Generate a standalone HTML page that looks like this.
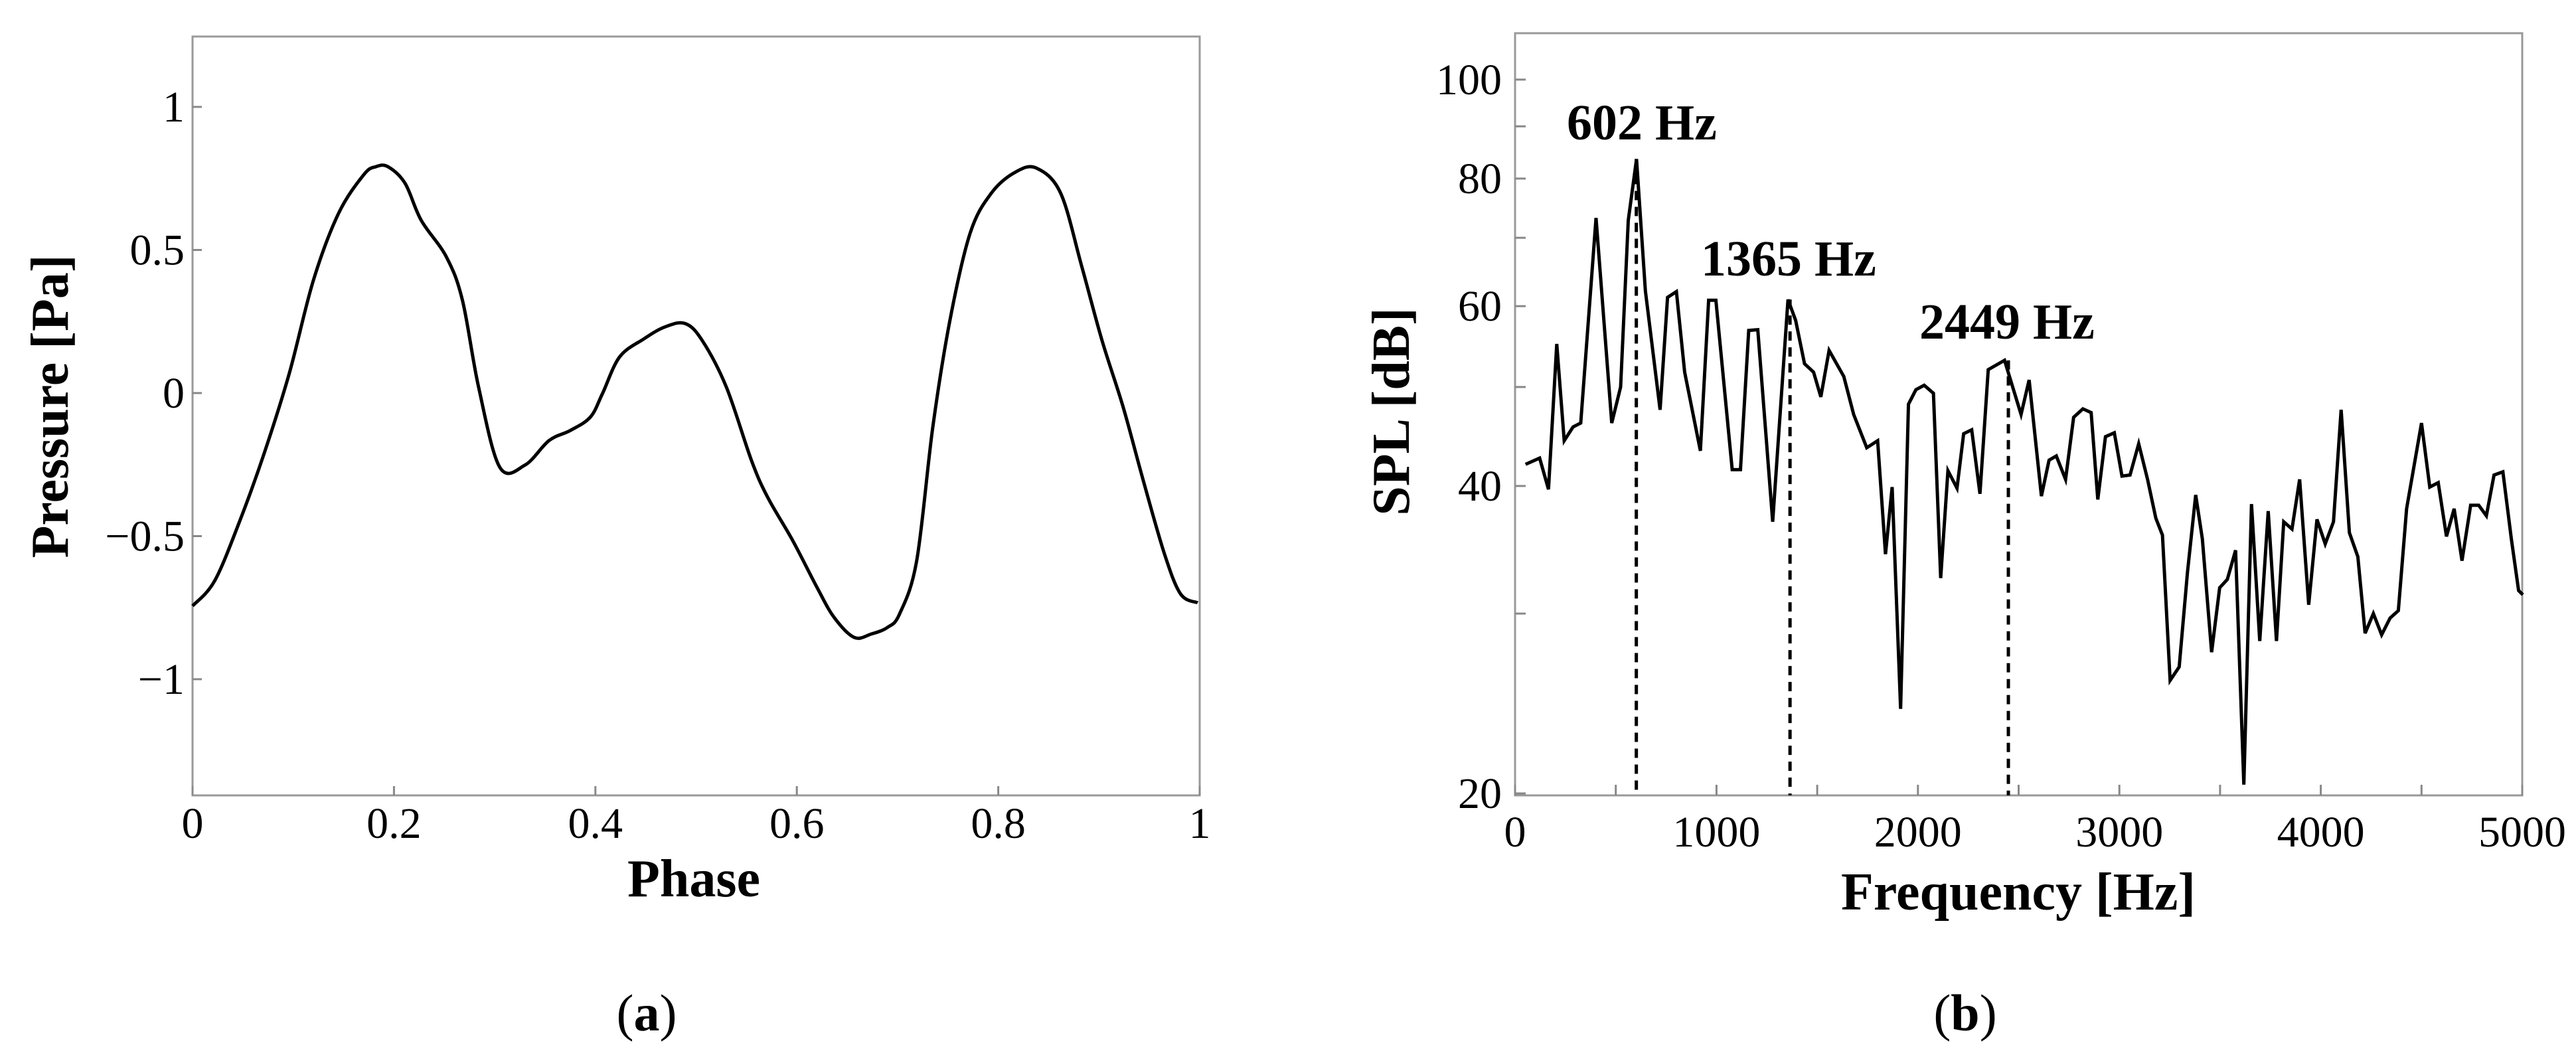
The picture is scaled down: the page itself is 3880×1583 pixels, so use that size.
<!DOCTYPE html>
<html><head><meta charset="utf-8"><style>
html,body{margin:0;padding:0;background:#fff;}
svg{display:block;font-family:"Liberation Serif",serif;}
</style></head><body>
<svg id="fig" width="3880" height="1583" viewBox="0 0 3880 1583">
<g id="chartA"></g>
<g id="chartB"></g>
</svg>
<script>
const phaseVals=[0,0.022,0.047,0.071,0.096,0.120,0.145,0.170,0.182,0.194,0.211,0.227,0.252,0.268,0.284,0.305,0.330,0.354,0.375,0.395,0.407,0.424,0.448,0.469,0.489,0.506,0.530,0.555,0.571,0.596,0.620,0.637,0.657,0.674,0.690,0.702,0.719,0.735,0.752,0.772,0.793,0.817,0.838,0.862,0.883,0.903,0.924,0.944,0.965,0.981,0.998];
const pressureVals=[-0.744,-0.656,-0.446,-0.212,0.068,0.394,0.628,0.763,0.791,0.791,0.733,0.604,0.476,0.324,0.021,-0.259,-0.252,-0.166,-0.131,-0.084,-0.002,0.126,0.189,0.231,0.243,0.184,0.021,-0.236,-0.364,-0.516,-0.679,-0.784,-0.854,-0.842,-0.819,-0.772,-0.586,-0.119,0.254,0.558,0.698,0.772,0.786,0.698,0.441,0.184,-0.049,-0.306,-0.562,-0.702,-0.733];
const phaseTicks=[0,0.2,0.4,0.6,0.8,1];
const phaseTickLabels=["0","0.2","0.4","0.6","0.8","1"];
const pressureTicks=[1,0.5,0,-0.5,-1];
const pressureTickLabels=["1","0.5","0","\u22120.5","\u22121"];

const freqVals=[52,122,166,207,244,288,326,402,480,524,562,603,647,720,757,801,842,920,961,997,1078,1119,1160,1205,1279,1355,1393,1437,1482,1518,1559,1632,1681,1746,1800,1839,1872,1914,1953,1990,2031,2077,2113,2149,2194,2227,2267,2308,2349,2430,2512,2552,2613,2651,2687,2733,2773,2819,2860,2893,2931,2975,3013,3053,3096,3140,3181,3214,3252,3297,3338,3379,3412,3458,3498,3536,3577,3618,3656,3697,3739,3780,3816,3857,3895,3940,3981,4022,4063,4101,4142,4184,4220,4261,4302,4344,4385,4426,4500,4541,4583,4624,4662,4701,4744,4784,4822,4860,4904,4946,4982,5003];
const splVals=[42.0,42.6,39.7,55.1,44.3,45.7,46.1,73.2,46.1,50.0,72.8,83.6,62.1,47.5,61.2,62.0,51.7,43.3,60.8,60.8,41.5,41.5,56.8,56.9,36.9,60.9,58.1,52.7,51.7,48.9,54.3,51.2,47.0,43.6,44.3,34.3,39.9,24.2,48.1,49.7,50.2,49.3,32.5,41.4,39.8,45.0,45.4,39.3,52.0,53.1,47.0,50.8,39.1,42.4,42.8,40.6,46.7,47.6,47.2,38.8,44.7,45.1,40.9,41.0,44.0,40.6,37.2,35.8,25.8,26.6,32.9,39.2,35.5,27.5,31.8,32.4,34.6,20.4,38.4,28.2,37.8,28.2,36.9,36.3,40.6,30.6,37.1,35.1,36.9,47.5,36.0,34.1,28.7,30.0,28.6,29.7,30.2,38.0,46.1,39.9,40.3,35.7,38.0,33.8,38.3,38.3,37.4,41.0,41.3,35.5,31.6,31.3];
const freqTicks=[0,1000,2000,3000,4000,5000];
const freqTickLabels=["0","1000","2000","3000","4000","5000"];
const splTicks=[20,40,60,80,100];
const splTickLabels=["20","40","60","80","100"];
const splMinor=[30,50,70,90];
const peakFreqs=[602,1365,2449];
const peakSpl=[83.6,60.9,53.1];
const peakLabels=["602 Hz","1365 Hz","2449 Hz"];

const NS="http://www.w3.org/2000/svg";
function mk(parent,tag,attrs,text){const e=document.createElementNS(NS,tag);for(const k in attrs)e.setAttribute(k,attrs[k]);if(text!==undefined)e.textContent=text;parent.appendChild(e);return e;}

// Chart A
const A=document.getElementById('chartA');
const aL=290,aR=1807,aT=55,aB=1198;
const ax=v=>aL+(aR-aL)*v;
const ay=v=>592-431*v;
let fr=mk(A,'rect',{x:aL,y:aT,width:aR-aL,height:aB-aT,fill:'none',stroke:'#999','stroke-width':3});


phaseTicks.forEach((t,i)=>{
  const l=mk(A,'line',{x1:ax(t),x2:ax(t),y1:aB,y2:aB-14,stroke:'#888','stroke-width':3});
  
  
  const tx=mk(A,'text',{x:ax(t),y:1262,'font-size':66,'text-anchor':'middle'},phaseTickLabels[i]);
  
  
});
pressureTicks.forEach((t,i)=>{
  const l=mk(A,'line',{x1:aL,x2:aL+14,y1:ay(t),y2:ay(t),stroke:'#888','stroke-width':3});
  
  
  const tx=mk(A,'text',{x:278,y:ay(t)+22,'font-size':66,'text-anchor':'end'},pressureTickLabels[i]);
  
  
});
function smooth(pts){let d=`M${pts[0][0]},${pts[0][1]}`;for(let i=0;i<pts.length-1;i++){const p0=pts[i-1]||pts[i],p1=pts[i],p2=pts[i+1],p3=pts[i+2]||p2;d+=` C${p1[0]+(p2[0]-p0[0])/6},${p1[1]+(p2[1]-p0[1])/6} ${p2[0]-(p3[0]-p1[0])/6},${p2[1]-(p3[1]-p1[1])/6} ${p2[0]},${p2[1]}`;}return d;}
const aPts=phaseVals.map((p,i)=>[ax(p),ay(pressureVals[i])]);
const aLine=mk(A,'path',{d:smooth(aPts),fill:'none',stroke:'#000','stroke-width':5});


let t1=mk(A,'text',{x:1045,y:1350,'font-size':80,'font-weight':'bold','text-anchor':'middle'},'Phase');


let t2=mk(A,'text',{x:0,y:0,'font-size':80,'font-weight':'bold','text-anchor':'middle',transform:'translate(102,612) rotate(-90)'},'Pressure [Pa]');


let c1=mk(A,'text',{x:974,y:1552,'font-size':78,'text-anchor':'middle'});
c1.innerHTML='(<tspan font-weight="bold">a</tspan>)';



// Chart B
const B=document.getElementById('chartB');
const bL=2282,bR=3799,bT=50,bB=1198;
const bx=f=>bL+(bR-bL)*f/5000;
const by=v=>1195-668*Math.log(v/20);
let fr2=mk(B,'rect',{x:bL,y:bT,width:bR-bL,height:bB-bT,fill:'none',stroke:'#999','stroke-width':3});


for(let f=0;f<=5000;f+=500){
  const l=mk(B,'line',{x1:bx(f),x2:bx(f),y1:bB,y2:bB-16,stroke:'#888','stroke-width':3});
  
  
}
freqTicks.forEach((t,i)=>{
  const tx=mk(B,'text',{x:bx(t),y:1275,'font-size':66,'text-anchor':'middle'},freqTickLabels[i]);
  
  
});
splTicks.concat(splMinor).forEach(t=>{
  const l=mk(B,'line',{x1:bL,x2:bL+16,y1:by(t),y2:by(t),stroke:'#888','stroke-width':3});
  
  
});
splTicks.forEach((t,i)=>{
  const tx=mk(B,'text',{x:2262,y:by(t)+22,'font-size':66,'text-anchor':'end'},splTickLabels[i]);
  
  
});
peakFreqs.forEach((f,i)=>{
  const l=mk(B,'line',{x1:bx(f),x2:bx(f),y1:by(peakSpl[i]),y2:bB,stroke:'#000','stroke-width':5,'stroke-dasharray':'14 10'});
  
  
});
const bPts=freqVals.map((f,i)=>`${bx(f)},${by(splVals[i])}`).join(' ');
const bLine=mk(B,'polyline',{points:bPts,fill:'none',stroke:'#000','stroke-width':5,'stroke-linejoin':'miter'});


const labPos=[[2360,210],[2562,415],[2891,510]];
peakLabels.forEach((s,i)=>{
  const tx=mk(B,'text',{x:labPos[i][0],y:labPos[i][1],'font-size':76,'font-weight':'bold'},s);
  
  
});
let t3=mk(B,'text',{x:3040,y:1370,'font-size':80,'font-weight':'bold','text-anchor':'middle'},'Frequency [Hz]');


let t4=mk(B,'text',{x:0,y:0,'font-size':80,'font-weight':'bold','text-anchor':'middle',transform:'translate(2122,620) rotate(-90)'},'SPL [dB]');


let c2=mk(B,'text',{x:2960,y:1552,'font-size':78,'text-anchor':'middle'});
c2.innerHTML='(<tspan font-weight="bold">b</tspan>)';


</script>
</body></html>
